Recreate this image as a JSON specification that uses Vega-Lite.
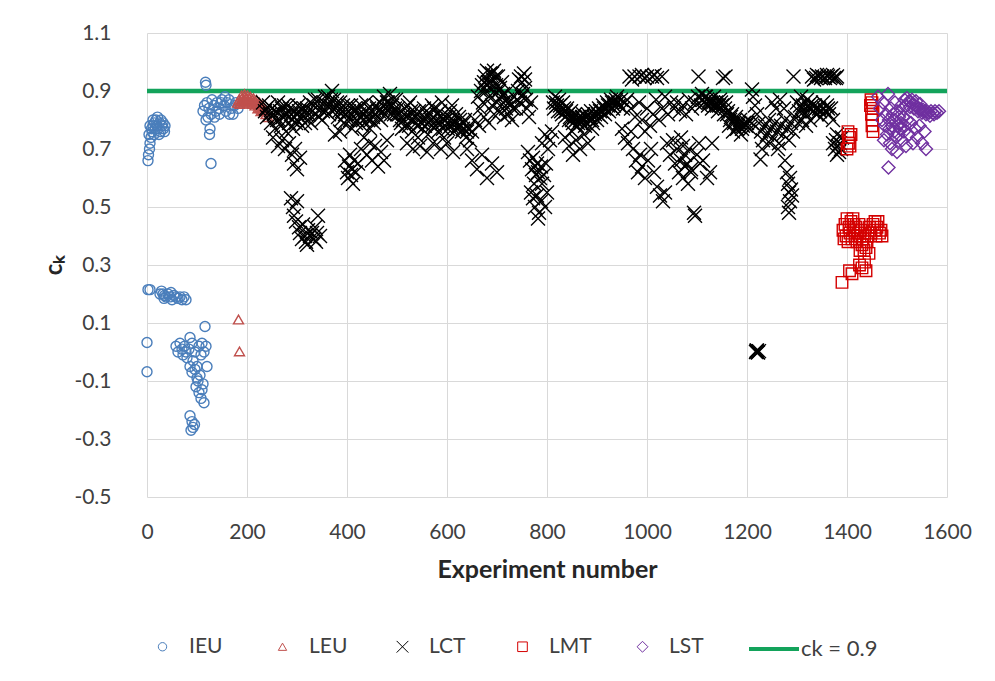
{
  "$schema": "https://vega.github.io/schema/vega-lite/v6.json",
  "width": 800,
  "height": 464,
  "autosize": {"type": "none"},
  "padding": {"left": 147, "top": 33, "right": 48, "bottom": 184},
  "background": "white",
  "config": {"view": {"stroke": null}, "font": "Lato"},
  "layer": [
    {
      "data": {"values": [{"ref": "ck = 0.9", "y": 0.9}]},
      "mark": {"type": "rule", "strokeWidth": 4.5},
      "encoding": {
        "y": {"field": "y", "type": "quantitative", "scale": {"domain": [-0.5, 1.1], "nice": false}},
        "stroke": {
          "field": "ref", "type": "nominal",
          "scale": {"range": ["#13A35B"]},
          "legend": {
            "orient": "none", "legendX": 600, "legendY": 589, "title": null,
            "symbolType": "stroke", "symbolSize": 2500, "symbolStrokeWidth": 4,
            "labelFont": "Lato", "labelFontSize": 22, "labelColor": "#404040", "labelOffset": 0
          }
        }
      }
    },
    {
      "data": {"values": [
        {"g":"IEU","x":2,"y":0.66},{"g":"IEU","x":3,"y":0.68},{"g":"IEU","x":5,"y":0.70},{"g":"IEU","x":6,"y":0.72},{"g":"IEU","x":8,"y":0.74},{"g":"IEU","x":4,"y":0.75},{"g":"IEU","x":10,"y":0.76},{"g":"IEU","x":12,"y":0.78},{"g":"IEU","x":15,"y":0.79},{"g":"IEU","x":18,"y":0.80},{"g":"IEU","x":20,"y":0.78},{"g":"IEU","x":22,"y":0.77},{"g":"IEU","x":25,"y":0.79},{"g":"IEU","x":28,"y":0.80},{"g":"IEU","x":30,"y":0.78},{"g":"IEU","x":33,"y":0.77},{"g":"IEU","x":35,"y":0.76},{"g":"IEU","x":14,"y":0.75},{"g":"IEU","x":24,"y":0.75},{"g":"IEU","x":17,"y":0.77},{"g":"IEU","x":27,"y":0.76},{"g":"IEU","x":32,"y":0.79},{"g":"IEU","x":12,"y":0.80},{"g":"IEU","x":21,"y":0.81},{"g":"IEU","x":9,"y":0.77},{"g":"IEU","x":36,"y":0.78},{"g":"IEU","x":6,"y":0.78},
        {"g":"IEU","x":117,"y":0.93},{"g":"IEU","x":118,"y":0.92},{"g":"IEU","x":112,"y":0.83},{"g":"IEU","x":115,"y":0.85},{"g":"IEU","x":120,"y":0.86},{"g":"IEU","x":124,"y":0.84},{"g":"IEU","x":128,"y":0.82},{"g":"IEU","x":130,"y":0.87},{"g":"IEU","x":134,"y":0.85},{"g":"IEU","x":138,"y":0.83},{"g":"IEU","x":140,"y":0.86},{"g":"IEU","x":144,"y":0.84},{"g":"IEU","x":148,"y":0.86},{"g":"IEU","x":150,"y":0.87},{"g":"IEU","x":154,"y":0.85},{"g":"IEU","x":158,"y":0.83},{"g":"IEU","x":160,"y":0.86},{"g":"IEU","x":164,"y":0.87},{"g":"IEU","x":168,"y":0.84},{"g":"IEU","x":172,"y":0.82},{"g":"IEU","x":175,"y":0.85},{"g":"IEU","x":178,"y":0.86},{"g":"IEU","x":122,"y":0.81},{"g":"IEU","x":135,"y":0.81},{"g":"IEU","x":145,"y":0.82},{"g":"IEU","x":165,"y":0.82},{"g":"IEU","x":182,"y":0.84},{"g":"IEU","x":126,"y":0.77},{"g":"IEU","x":125,"y":0.75},{"g":"IEU","x":128,"y":0.65},{"g":"IEU","x":118,"y":0.80},{"g":"IEU","x":156,"y":0.88},
        {"g":"IEU","x":2,"y":0.215},{"g":"IEU","x":6,"y":0.215},{"g":"IEU","x":26,"y":0.20},{"g":"IEU","x":29,"y":0.21},{"g":"IEU","x":32,"y":0.20},{"g":"IEU","x":35,"y":0.195},{"g":"IEU","x":38,"y":0.19},{"g":"IEU","x":42,"y":0.20},{"g":"IEU","x":46,"y":0.19},{"g":"IEU","x":50,"y":0.18},{"g":"IEU","x":54,"y":0.195},{"g":"IEU","x":58,"y":0.19},{"g":"IEU","x":62,"y":0.185},{"g":"IEU","x":66,"y":0.19},{"g":"IEU","x":70,"y":0.18},{"g":"IEU","x":74,"y":0.19},{"g":"IEU","x":78,"y":0.18},{"g":"IEU","x":34,"y":0.185},{"g":"IEU","x":48,"y":0.205},
        {"g":"IEU","x":0,"y":0.033},{"g":"IEU","x":0,"y":-0.068},{"g":"IEU","x":116,"y":0.088},
        {"g":"IEU","x":58,"y":0.02},{"g":"IEU","x":62,"y":0.0},{"g":"IEU","x":66,"y":0.03},{"g":"IEU","x":70,"y":0.01},{"g":"IEU","x":72,"y":-0.01},{"g":"IEU","x":75,"y":0.02},{"g":"IEU","x":78,"y":0.0},{"g":"IEU","x":80,"y":-0.02},{"g":"IEU","x":84,"y":0.01},{"g":"IEU","x":86,"y":0.05},{"g":"IEU","x":90,"y":0.03},{"g":"IEU","x":92,"y":-0.03},{"g":"IEU","x":96,"y":0.0},{"g":"IEU","x":100,"y":-0.05},{"g":"IEU","x":104,"y":0.02},{"g":"IEU","x":108,"y":-0.01},{"g":"IEU","x":110,"y":0.03},{"g":"IEU","x":114,"y":0.0},{"g":"IEU","x":118,"y":0.02},{"g":"IEU","x":120,"y":-0.05},{"g":"IEU","x":86,"y":-0.05},{"g":"IEU","x":90,"y":-0.07},{"g":"IEU","x":96,"y":-0.06},{"g":"IEU","x":102,"y":-0.10},{"g":"IEU","x":106,"y":-0.08},{"g":"IEU","x":112,"y":-0.11},{"g":"IEU","x":98,"y":-0.12},{"g":"IEU","x":104,"y":-0.14},{"g":"IEU","x":108,"y":-0.16},{"g":"IEU","x":110,"y":-0.13},{"g":"IEU","x":100,"y":-0.09},{"g":"IEU","x":114,"y":-0.175},{"g":"IEU","x":86,"y":-0.22},{"g":"IEU","x":90,"y":-0.24},{"g":"IEU","x":92,"y":-0.26},{"g":"IEU","x":95,"y":-0.25},{"g":"IEU","x":88,"y":-0.27},
        {"g":"LEU","x":181,"y":0.86},{"g":"LEU","x":184,"y":0.87},{"g":"LEU","x":187,"y":0.865},{"g":"LEU","x":190,"y":0.875},{"g":"LEU","x":193,"y":0.87},{"g":"LEU","x":196,"y":0.88},{"g":"LEU","x":199,"y":0.875},{"g":"LEU","x":202,"y":0.87},{"g":"LEU","x":205,"y":0.875},{"g":"LEU","x":208,"y":0.865},{"g":"LEU","x":211,"y":0.87},{"g":"LEU","x":214,"y":0.86},{"g":"LEU","x":217,"y":0.865},{"g":"LEU","x":220,"y":0.855},{"g":"LEU","x":223,"y":0.85},{"g":"LEU","x":226,"y":0.845},{"g":"LEU","x":229,"y":0.84},{"g":"LEU","x":232,"y":0.835},{"g":"LEU","x":235,"y":0.83},{"g":"LEU","x":186,"y":0.855},{"g":"LEU","x":192,"y":0.86},{"g":"LEU","x":198,"y":0.865},{"g":"LEU","x":204,"y":0.86},{"g":"LEU","x":210,"y":0.855},{"g":"LEU","x":216,"y":0.85},{"g":"LEU","x":222,"y":0.84},{"g":"LEU","x":228,"y":0.83},{"g":"LEU","x":189,"y":0.885},{"g":"LEU","x":195,"y":0.89},{"g":"LEU","x":201,"y":0.885},{"g":"LEU","x":207,"y":0.88},{"g":"LEU","x":213,"y":0.875},{"g":"LEU","x":219,"y":0.87},{"g":"LEU","x":225,"y":0.86},{"g":"LEU","x":231,"y":0.85},{"g":"LEU","x":238,"y":0.82},{"g":"LEU","x":242,"y":0.81},{"g":"LEU","x":183,"y":0.112},{"g":"LEU","x":185,"y":0.002},
        {"g":"LCT","x":232,"y":0.86},{"g":"LCT","x":236,"y":0.83},{"g":"LCT","x":240,"y":0.81},{"g":"LCT","x":244,"y":0.85},{"g":"LCT","x":248,"y":0.79},{"g":"LCT","x":250,"y":0.84},{"g":"LCT","x":254,"y":0.82},{"g":"LCT","x":256,"y":0.77},{"g":"LCT","x":260,"y":0.80},{"g":"LCT","x":262,"y":0.86},{"g":"LCT","x":266,"y":0.83},{"g":"LCT","x":268,"y":0.78},{"g":"LCT","x":272,"y":0.81},{"g":"LCT","x":274,"y":0.85},{"g":"LCT","x":278,"y":0.76},{"g":"LCT","x":280,"y":0.82},{"g":"LCT","x":284,"y":0.79},{"g":"LCT","x":286,"y":0.84},{"g":"LCT","x":290,"y":0.80},{"g":"LCT","x":292,"y":0.77},{"g":"LCT","x":296,"y":0.83},{"g":"LCT","x":298,"y":0.79},{"g":"LCT","x":302,"y":0.85},{"g":"LCT","x":306,"y":0.81},{"g":"LCT","x":310,"y":0.78},{"g":"LCT","x":314,"y":0.84},{"g":"LCT","x":318,"y":0.82},{"g":"LCT","x":322,"y":0.80},{"g":"LCT","x":326,"y":0.86},{"g":"LCT","x":330,"y":0.83},
        {"g":"LCT","x":238,"y":0.84},{"g":"LCT","x":246,"y":0.82},{"g":"LCT","x":258,"y":0.83},{"g":"LCT","x":264,"y":0.80},{"g":"LCT","x":270,"y":0.84},{"g":"LCT","x":276,"y":0.82},{"g":"LCT","x":282,"y":0.85},{"g":"LCT","x":288,"y":0.82},{"g":"LCT","x":294,"y":0.81},{"g":"LCT","x":300,"y":0.80},{"g":"LCT","x":304,"y":0.83},{"g":"LCT","x":308,"y":0.84},{"g":"LCT","x":312,"y":0.81},{"g":"LCT","x":316,"y":0.79},{"g":"LCT","x":320,"y":0.84},{"g":"LCT","x":324,"y":0.82},{"g":"LCT","x":328,"y":0.79},
        {"g":"LCT","x":252,"y":0.74},{"g":"LCT","x":262,"y":0.71},{"g":"LCT","x":270,"y":0.73},{"g":"LCT","x":276,"y":0.70},{"g":"LCT","x":284,"y":0.72},{"g":"LCT","x":290,"y":0.68},{"g":"LCT","x":294,"y":0.65},{"g":"LCT","x":300,"y":0.63},{"g":"LCT","x":306,"y":0.67},{"g":"LCT","x":296,"y":0.70},
        {"g":"LCT","x":288,"y":0.53},{"g":"LCT","x":292,"y":0.50},{"g":"LCT","x":294,"y":0.47},{"g":"LCT","x":298,"y":0.45},{"g":"LCT","x":300,"y":0.52},{"g":"LCT","x":304,"y":0.43},{"g":"LCT","x":306,"y":0.41},{"g":"LCT","x":310,"y":0.39},{"g":"LCT","x":312,"y":0.44},{"g":"LCT","x":316,"y":0.40},{"g":"LCT","x":318,"y":0.38},{"g":"LCT","x":322,"y":0.42},{"g":"LCT","x":326,"y":0.40},{"g":"LCT","x":330,"y":0.41},{"g":"LCT","x":334,"y":0.39},{"g":"LCT","x":336,"y":0.43},{"g":"LCT","x":340,"y":0.41},{"g":"LCT","x":342,"y":0.47},{"g":"LCT","x":346,"y":0.40},{"g":"LCT","x":338,"y":0.38},{"g":"LCT","x":320,"y":0.37},
        {"g":"LCT","x":334,"y":0.85},{"g":"LCT","x":338,"y":0.82},{"g":"LCT","x":342,"y":0.87},{"g":"LCT","x":346,"y":0.84},{"g":"LCT","x":350,"y":0.80},{"g":"LCT","x":354,"y":0.86},{"g":"LCT","x":358,"y":0.83},{"g":"LCT","x":362,"y":0.88},{"g":"LCT","x":366,"y":0.85},{"g":"LCT","x":370,"y":0.90},{"g":"LCT","x":374,"y":0.87},{"g":"LCT","x":378,"y":0.84},{"g":"LCT","x":382,"y":0.81},{"g":"LCT","x":386,"y":0.86},{"g":"LCT","x":390,"y":0.83},{"g":"LCT","x":394,"y":0.79},{"g":"LCT","x":398,"y":0.82},{"g":"LCT","x":402,"y":0.85},{"g":"LCT","x":406,"y":0.80},{"g":"LCT","x":410,"y":0.77},{"g":"LCT","x":414,"y":0.83},{"g":"LCT","x":418,"y":0.79},{"g":"LCT","x":422,"y":0.84},{"g":"LCT","x":426,"y":0.81},{"g":"LCT","x":430,"y":0.78},{"g":"LCT","x":434,"y":0.82},{"g":"LCT","x":438,"y":0.86},{"g":"LCT","x":442,"y":0.80},{"g":"LCT","x":446,"y":0.77},{"g":"LCT","x":450,"y":0.83},{"g":"LCT","x":454,"y":0.79},{"g":"LCT","x":458,"y":0.85},{"g":"LCT","x":462,"y":0.81},{"g":"LCT","x":466,"y":0.86},{"g":"LCT","x":470,"y":0.83},{"g":"LCT","x":474,"y":0.88},{"g":"LCT","x":478,"y":0.84},{"g":"LCT","x":482,"y":0.86},{"g":"LCT","x":486,"y":0.89},{"g":"LCT","x":490,"y":0.85},{"g":"LCT","x":494,"y":0.82},{"g":"LCT","x":498,"y":0.87},
        {"g":"LCT","x":336,"y":0.87},{"g":"LCT","x":344,"y":0.81},{"g":"LCT","x":352,"y":0.83},{"g":"LCT","x":356,"y":0.88},{"g":"LCT","x":360,"y":0.85},{"g":"LCT","x":364,"y":0.82},{"g":"LCT","x":368,"y":0.87},{"g":"LCT","x":372,"y":0.84},{"g":"LCT","x":380,"y":0.86},{"g":"LCT","x":384,"y":0.83},{"g":"LCT","x":388,"y":0.80},{"g":"LCT","x":392,"y":0.85},{"g":"LCT","x":396,"y":0.82},{"g":"LCT","x":400,"y":0.80},{"g":"LCT","x":404,"y":0.83},{"g":"LCT","x":408,"y":0.85},{"g":"LCT","x":412,"y":0.81},{"g":"LCT","x":416,"y":0.84},{"g":"LCT","x":420,"y":0.80},{"g":"LCT","x":424,"y":0.82},{"g":"LCT","x":428,"y":0.85},{"g":"LCT","x":432,"y":0.80},{"g":"LCT","x":436,"y":0.83},{"g":"LCT","x":440,"y":0.81},{"g":"LCT","x":444,"y":0.84},{"g":"LCT","x":448,"y":0.80},{"g":"LCT","x":452,"y":0.81},{"g":"LCT","x":456,"y":0.82},{"g":"LCT","x":460,"y":0.84},{"g":"LCT","x":464,"y":0.83},{"g":"LCT","x":468,"y":0.80},{"g":"LCT","x":472,"y":0.85},{"g":"LCT","x":476,"y":0.82},{"g":"LCT","x":480,"y":0.86},{"g":"LCT","x":484,"y":0.84},{"g":"LCT","x":488,"y":0.82},{"g":"LCT","x":492,"y":0.87},{"g":"LCT","x":496,"y":0.84},{"g":"LCT","x":500,"y":0.82},
        {"g":"LCT","x":396,"y":0.66},{"g":"LCT","x":400,"y":0.62},{"g":"LCT","x":402,"y":0.60},{"g":"LCT","x":404,"y":0.64},{"g":"LCT","x":408,"y":0.61},{"g":"LCT","x":410,"y":0.63},{"g":"LCT","x":414,"y":0.66},{"g":"LCT","x":418,"y":0.62},{"g":"LCT","x":406,"y":0.68},{"g":"LCT","x":412,"y":0.58},{"g":"LCT","x":422,"y":0.65},{"g":"LCT","x":428,"y":0.70},{"g":"LCT","x":434,"y":0.74},{"g":"LCT","x":440,"y":0.68},{"g":"LCT","x":446,"y":0.72},{"g":"LCT","x":450,"y":0.66},{"g":"LCT","x":456,"y":0.71},{"g":"LCT","x":462,"y":0.64},{"g":"LCT","x":468,"y":0.69},{"g":"LCT","x":474,"y":0.66},{"g":"LCT","x":480,"y":0.73},{"g":"LCT","x":386,"y":0.76},{"g":"LCT","x":376,"y":0.75},
        {"g":"LCT","x":502,"y":0.84},{"g":"LCT","x":506,"y":0.80},{"g":"LCT","x":510,"y":0.77},{"g":"LCT","x":514,"y":0.82},{"g":"LCT","x":518,"y":0.78},{"g":"LCT","x":522,"y":0.85},{"g":"LCT","x":526,"y":0.81},{"g":"LCT","x":530,"y":0.76},{"g":"LCT","x":534,"y":0.83},{"g":"LCT","x":538,"y":0.79},{"g":"LCT","x":542,"y":0.74},{"g":"LCT","x":546,"y":0.81},{"g":"LCT","x":550,"y":0.77},{"g":"LCT","x":554,"y":0.84},{"g":"LCT","x":558,"y":0.80},{"g":"LCT","x":562,"y":0.75},{"g":"LCT","x":566,"y":0.82},{"g":"LCT","x":570,"y":0.78},{"g":"LCT","x":574,"y":0.84},{"g":"LCT","x":578,"y":0.80},{"g":"LCT","x":582,"y":0.76},{"g":"LCT","x":586,"y":0.83},{"g":"LCT","x":590,"y":0.79},{"g":"LCT","x":594,"y":0.74},{"g":"LCT","x":598,"y":0.81},{"g":"LCT","x":602,"y":0.77},{"g":"LCT","x":606,"y":0.83},{"g":"LCT","x":610,"y":0.79},{"g":"LCT","x":614,"y":0.76},{"g":"LCT","x":618,"y":0.82},{"g":"LCT","x":622,"y":0.78},{"g":"LCT","x":626,"y":0.80},{"g":"LCT","x":630,"y":0.76},{"g":"LCT","x":634,"y":0.79},{"g":"LCT","x":638,"y":0.74},{"g":"LCT","x":642,"y":0.77},{"g":"LCT","x":646,"y":0.73},{"g":"LCT","x":650,"y":0.76},{"g":"LCT","x":520,"y":0.72},{"g":"LCT","x":532,"y":0.70},{"g":"LCT","x":546,"y":0.71},{"g":"LCT","x":560,"y":0.69},{"g":"LCT","x":572,"y":0.72},{"g":"LCT","x":588,"y":0.70},{"g":"LCT","x":600,"y":0.72},{"g":"LCT","x":612,"y":0.69},{"g":"LCT","x":526,"y":0.86},{"g":"LCT","x":570,"y":0.85},{"g":"LCT","x":590,"y":0.86},{"g":"LCT","x":610,"y":0.85},
        {"g":"LCT","x":504,"y":0.82},{"g":"LCT","x":508,"y":0.79},{"g":"LCT","x":512,"y":0.80},{"g":"LCT","x":516,"y":0.84},{"g":"LCT","x":520,"y":0.81},{"g":"LCT","x":524,"y":0.78},{"g":"LCT","x":528,"y":0.83},{"g":"LCT","x":532,"y":0.80},{"g":"LCT","x":536,"y":0.81},{"g":"LCT","x":540,"y":0.78},{"g":"LCT","x":544,"y":0.83},{"g":"LCT","x":548,"y":0.79},{"g":"LCT","x":552,"y":0.80},{"g":"LCT","x":556,"y":0.78},{"g":"LCT","x":560,"y":0.82},{"g":"LCT","x":564,"y":0.79},{"g":"LCT","x":568,"y":0.80},{"g":"LCT","x":572,"y":0.81},{"g":"LCT","x":576,"y":0.78},{"g":"LCT","x":580,"y":0.82},{"g":"LCT","x":584,"y":0.79},{"g":"LCT","x":588,"y":0.81},{"g":"LCT","x":592,"y":0.77},{"g":"LCT","x":596,"y":0.80},{"g":"LCT","x":600,"y":0.79},{"g":"LCT","x":604,"y":0.81},{"g":"LCT","x":608,"y":0.78},{"g":"LCT","x":612,"y":0.80},{"g":"LCT","x":616,"y":0.79},{"g":"LCT","x":620,"y":0.77},{"g":"LCT","x":624,"y":0.81},{"g":"LCT","x":628,"y":0.78},{"g":"LCT","x":632,"y":0.77},{"g":"LCT","x":636,"y":0.80},{"g":"LCT","x":640,"y":0.76},
        {"g":"LCT","x":640,"y":0.70},{"g":"LCT","x":650,"y":0.66},{"g":"LCT","x":660,"y":0.63},{"g":"LCT","x":670,"y":0.68},{"g":"LCT","x":680,"y":0.60},{"g":"LCT","x":690,"y":0.65},{"g":"LCT","x":700,"y":0.62},
        {"g":"LCT","x":662,"y":0.88},{"g":"LCT","x":666,"y":0.84},{"g":"LCT","x":670,"y":0.92},{"g":"LCT","x":672,"y":0.86},{"g":"LCT","x":676,"y":0.95},{"g":"LCT","x":678,"y":0.90},{"g":"LCT","x":680,"y":0.97},{"g":"LCT","x":682,"y":0.93},{"g":"LCT","x":684,"y":0.88},{"g":"LCT","x":686,"y":0.96},{"g":"LCT","x":688,"y":0.91},{"g":"LCT","x":690,"y":0.85},{"g":"LCT","x":692,"y":0.94},{"g":"LCT","x":694,"y":0.97},{"g":"LCT","x":696,"y":0.89},{"g":"LCT","x":698,"y":0.92},{"g":"LCT","x":700,"y":0.86},{"g":"LCT","x":702,"y":0.95},{"g":"LCT","x":704,"y":0.90},{"g":"LCT","x":706,"y":0.83},{"g":"LCT","x":708,"y":0.88},{"g":"LCT","x":710,"y":0.93},{"g":"LCT","x":712,"y":0.86},{"g":"LCT","x":714,"y":0.81},{"g":"LCT","x":716,"y":0.89},{"g":"LCT","x":718,"y":0.84},{"g":"LCT","x":720,"y":0.87},{"g":"LCT","x":722,"y":0.82},{"g":"LCT","x":726,"y":0.85},{"g":"LCT","x":730,"y":0.80},{"g":"LCT","x":734,"y":0.88},{"g":"LCT","x":738,"y":0.84},{"g":"LCT","x":742,"y":0.90},{"g":"LCT","x":746,"y":0.86},{"g":"LCT","x":748,"y":0.95},{"g":"LCT","x":750,"y":0.93},{"g":"LCT","x":752,"y":0.89},{"g":"LCT","x":754,"y":0.96},{"g":"LCT","x":756,"y":0.91},{"g":"LCT","x":758,"y":0.87},{"g":"LCT","x":760,"y":0.84},{"g":"LCT","x":764,"y":0.81},{"g":"LCT","x":768,"y":0.86},{"g":"LCT","x":656,"y":0.80},{"g":"LCT","x":664,"y":0.78},{"g":"LCT","x":674,"y":0.81},{"g":"LCT","x":684,"y":0.79},{"g":"LCT","x":694,"y":0.82},{"g":"LCT","x":744,"y":0.94},
        {"g":"LCT","x":668,"y":0.90},{"g":"LCT","x":674,"y":0.93},{"g":"LCT","x":680,"y":0.92},{"g":"LCT","x":686,"y":0.93},{"g":"LCT","x":690,"y":0.96},{"g":"LCT","x":698,"y":0.95},{"g":"LCT","x":706,"y":0.91},{"g":"LCT","x":712,"y":0.89},{"g":"LCT","x":724,"y":0.86},{"g":"LCT","x":732,"y":0.84},{"g":"LCT","x":740,"y":0.87},{"g":"LCT","x":750,"y":0.88},{"g":"LCT","x":756,"y":0.94},
        {"g":"LCT","x":762,"y":0.69},{"g":"LCT","x":766,"y":0.66},{"g":"LCT","x":770,"y":0.63},{"g":"LCT","x":772,"y":0.67},{"g":"LCT","x":776,"y":0.64},{"g":"LCT","x":778,"y":0.61},{"g":"LCT","x":780,"y":0.65},{"g":"LCT","x":782,"y":0.62},{"g":"LCT","x":786,"y":0.60},{"g":"LCT","x":788,"y":0.64},{"g":"LCT","x":790,"y":0.58},{"g":"LCT","x":774,"y":0.58},{"g":"LCT","x":768,"y":0.55},{"g":"LCT","x":772,"y":0.53},{"g":"LCT","x":776,"y":0.50},{"g":"LCT","x":780,"y":0.54},{"g":"LCT","x":784,"y":0.48},{"g":"LCT","x":788,"y":0.52},{"g":"LCT","x":782,"y":0.46},{"g":"LCT","x":796,"y":0.50},{"g":"LCT","x":800,"y":0.55},{"g":"LCT","x":794,"y":0.61},{"g":"LCT","x":798,"y":0.65},{"g":"LCT","x":802,"y":0.70},{"g":"LCT","x":806,"y":0.73},{"g":"LCT","x":810,"y":0.76},{"g":"LCT","x":796,"y":0.75},{"g":"LCT","x":790,"y":0.72},
        {"g":"LCT","x":812,"y":0.86},{"g":"LCT","x":816,"y":0.88},{"g":"LCT","x":820,"y":0.85},{"g":"LCT","x":824,"y":0.87},{"g":"LCT","x":828,"y":0.83},{"g":"LCT","x":832,"y":0.86},{"g":"LCT","x":836,"y":0.81},{"g":"LCT","x":840,"y":0.84},{"g":"LCT","x":844,"y":0.80},{"g":"LCT","x":848,"y":0.83},{"g":"LCT","x":852,"y":0.79},{"g":"LCT","x":856,"y":0.82},{"g":"LCT","x":860,"y":0.78},{"g":"LCT","x":864,"y":0.81},{"g":"LCT","x":868,"y":0.79},{"g":"LCT","x":872,"y":0.82},{"g":"LCT","x":876,"y":0.78},{"g":"LCT","x":880,"y":0.81},{"g":"LCT","x":884,"y":0.80},{"g":"LCT","x":888,"y":0.83},{"g":"LCT","x":892,"y":0.79},{"g":"LCT","x":896,"y":0.82},{"g":"LCT","x":900,"y":0.80},{"g":"LCT","x":904,"y":0.84},{"g":"LCT","x":908,"y":0.81},{"g":"LCT","x":912,"y":0.85},{"g":"LCT","x":916,"y":0.82},{"g":"LCT","x":920,"y":0.86},{"g":"LCT","x":924,"y":0.83},{"g":"LCT","x":928,"y":0.87},{"g":"LCT","x":932,"y":0.84},{"g":"LCT","x":936,"y":0.86},{"g":"LCT","x":940,"y":0.88},{"g":"LCT","x":944,"y":0.85},{"g":"LCT","x":948,"y":0.87},{"g":"LCT","x":952,"y":0.84},{"g":"LCT","x":956,"y":0.86},
        {"g":"LCT","x":814,"y":0.84},{"g":"LCT","x":818,"y":0.86},{"g":"LCT","x":822,"y":0.83},{"g":"LCT","x":826,"y":0.85},{"g":"LCT","x":830,"y":0.82},{"g":"LCT","x":834,"y":0.84},{"g":"LCT","x":838,"y":0.83},{"g":"LCT","x":842,"y":0.82},{"g":"LCT","x":846,"y":0.81},{"g":"LCT","x":850,"y":0.80},{"g":"LCT","x":854,"y":0.81},{"g":"LCT","x":858,"y":0.80},{"g":"LCT","x":862,"y":0.79},{"g":"LCT","x":866,"y":0.80},{"g":"LCT","x":870,"y":0.81},{"g":"LCT","x":874,"y":0.80},{"g":"LCT","x":878,"y":0.79},{"g":"LCT","x":882,"y":0.82},{"g":"LCT","x":886,"y":0.81},{"g":"LCT","x":890,"y":0.80},{"g":"LCT","x":894,"y":0.81},{"g":"LCT","x":898,"y":0.83},{"g":"LCT","x":902,"y":0.82},{"g":"LCT","x":906,"y":0.83},{"g":"LCT","x":910,"y":0.83},{"g":"LCT","x":914,"y":0.84},{"g":"LCT","x":918,"y":0.84},{"g":"LCT","x":922,"y":0.85},{"g":"LCT","x":926,"y":0.85},{"g":"LCT","x":930,"y":0.86},{"g":"LCT","x":934,"y":0.85},{"g":"LCT","x":938,"y":0.87},{"g":"LCT","x":942,"y":0.86},
        {"g":"LCT","x":836,"y":0.74},{"g":"LCT","x":844,"y":0.71},{"g":"LCT","x":852,"y":0.68},{"g":"LCT","x":858,"y":0.73},{"g":"LCT","x":866,"y":0.70},{"g":"LCT","x":874,"y":0.75},{"g":"LCT","x":882,"y":0.72},{"g":"LCT","x":850,"y":0.76},{"g":"LCT","x":890,"y":0.77},
        {"g":"LCT","x":965,"y":0.95},{"g":"LCT","x":975,"y":0.95},{"g":"LCT","x":985,"y":0.95},{"g":"LCT","x":995,"y":0.945},{"g":"LCT","x":1000,"y":0.95},{"g":"LCT","x":1010,"y":0.95},{"g":"LCT","x":1020,"y":0.945},{"g":"LCT","x":1030,"y":0.95},{"g":"LCT","x":970,"y":0.94},{"g":"LCT","x":990,"y":0.955},{"g":"LCT","x":1015,"y":0.955},
        {"g":"LCT","x":960,"y":0.87},{"g":"LCT","x":968,"y":0.84},{"g":"LCT","x":976,"y":0.81},{"g":"LCT","x":984,"y":0.86},{"g":"LCT","x":990,"y":0.80},{"g":"LCT","x":996,"y":0.76},{"g":"LCT","x":1000,"y":0.84},{"g":"LCT","x":1006,"y":0.78},{"g":"LCT","x":1012,"y":0.82},{"g":"LCT","x":1018,"y":0.87},{"g":"LCT","x":1024,"y":0.80},{"g":"LCT","x":1030,"y":0.84},{"g":"LCT","x":1036,"y":0.88},{"g":"LCT","x":1042,"y":0.82},{"g":"LCT","x":1048,"y":0.86},{"g":"LCT","x":1054,"y":0.84},{"g":"LCT","x":1060,"y":0.86},{"g":"LCT","x":1066,"y":0.83},{"g":"LCT","x":1072,"y":0.85},{"g":"LCT","x":1078,"y":0.82},{"g":"LCT","x":1084,"y":0.87},{"g":"LCT","x":1090,"y":0.84},{"g":"LCT","x":1096,"y":0.86},{"g":"LCT","x":1102,"y":0.88},{"g":"LCT","x":1108,"y":0.85},
        {"g":"LCT","x":950,"y":0.77},{"g":"LCT","x":956,"y":0.74},{"g":"LCT","x":962,"y":0.72},{"g":"LCT","x":968,"y":0.76},{"g":"LCT","x":972,"y":0.70},{"g":"LCT","x":978,"y":0.66},{"g":"LCT","x":982,"y":0.62},{"g":"LCT","x":986,"y":0.68},{"g":"LCT","x":990,"y":0.64},{"g":"LCT","x":996,"y":0.60},{"g":"LCT","x":1002,"y":0.66},{"g":"LCT","x":1008,"y":0.70},{"g":"LCT","x":1014,"y":0.62},{"g":"LCT","x":1020,"y":0.57},{"g":"LCT","x":1026,"y":0.54},{"g":"LCT","x":1032,"y":0.52},{"g":"LCT","x":1036,"y":0.55},{"g":"LCT","x":1040,"y":0.72},{"g":"LCT","x":1046,"y":0.68},{"g":"LCT","x":1052,"y":0.73},{"g":"LCT","x":1056,"y":0.65},{"g":"LCT","x":1060,"y":0.70},{"g":"LCT","x":1064,"y":0.62},{"g":"LCT","x":1068,"y":0.66},{"g":"LCT","x":1072,"y":0.60},{"g":"LCT","x":1076,"y":0.64},{"g":"LCT","x":1082,"y":0.58},{"g":"LCT","x":1088,"y":0.62},{"g":"LCT","x":1094,"y":0.48},{"g":"LCT","x":1096,"y":0.47},{"g":"LCT","x":1100,"y":0.68},{"g":"LCT","x":1104,"y":0.72},{"g":"LCT","x":1106,"y":0.65},
        {"g":"LCT","x":1103,"y":0.95},{"g":"LCT","x":1157,"y":0.95},{"g":"LCT","x":1152,"y":0.945},
        {"g":"LCT","x":1110,"y":0.89},{"g":"LCT","x":1114,"y":0.86},{"g":"LCT","x":1118,"y":0.88},{"g":"LCT","x":1122,"y":0.85},{"g":"LCT","x":1126,"y":0.87},{"g":"LCT","x":1130,"y":0.84},{"g":"LCT","x":1134,"y":0.88},{"g":"LCT","x":1138,"y":0.86},{"g":"LCT","x":1142,"y":0.83},{"g":"LCT","x":1146,"y":0.87},{"g":"LCT","x":1150,"y":0.85},{"g":"LCT","x":1154,"y":0.82},{"g":"LCT","x":1158,"y":0.86},{"g":"LCT","x":1162,"y":0.83},{"g":"LCT","x":1166,"y":0.80},{"g":"LCT","x":1170,"y":0.82},{"g":"LCT","x":1174,"y":0.79},{"g":"LCT","x":1178,"y":0.81},{"g":"LCT","x":1182,"y":0.78},{"g":"LCT","x":1186,"y":0.80},{"g":"LCT","x":1190,"y":0.77},{"g":"LCT","x":1194,"y":0.79},{"g":"LCT","x":1198,"y":0.78},{"g":"LCT","x":1202,"y":0.80},{"g":"LCT","x":1206,"y":0.77},{"g":"LCT","x":1210,"y":0.79},{"g":"LCT","x":1164,"y":0.78},{"g":"LCT","x":1172,"y":0.76},{"g":"LCT","x":1180,"y":0.77},{"g":"LCT","x":1188,"y":0.75},
        {"g":"LCT","x":1112,"y":0.87},{"g":"LCT","x":1116,"y":0.88},{"g":"LCT","x":1120,"y":0.87},{"g":"LCT","x":1124,"y":0.86},{"g":"LCT","x":1128,"y":0.86},{"g":"LCT","x":1132,"y":0.86},{"g":"LCT","x":1136,"y":0.85},{"g":"LCT","x":1140,"y":0.85},{"g":"LCT","x":1144,"y":0.85},{"g":"LCT","x":1148,"y":0.86},{"g":"LCT","x":1156,"y":0.84},{"g":"LCT","x":1160,"y":0.82},{"g":"LCT","x":1168,"y":0.81},{"g":"LCT","x":1176,"y":0.80},{"g":"LCT","x":1184,"y":0.79},{"g":"LCT","x":1192,"y":0.78},{"g":"LCT","x":1200,"y":0.79},
        {"g":"LCT","x":1068,"y":0.74},{"g":"LCT","x":1072,"y":0.71},{"g":"LCT","x":1076,"y":0.68},{"g":"LCT","x":1080,"y":0.65},{"g":"LCT","x":1084,"y":0.70},{"g":"LCT","x":1088,"y":0.63},{"g":"LCT","x":1120,"y":0.60},{"g":"LCT","x":1126,"y":0.62},{"g":"LCT","x":1112,"y":0.66},{"g":"LCT","x":1130,"y":0.72},
        {"g":"LCT","x":1218,"y":0.0},{"g":"LCT","x":1220,"y":0.005},{"g":"LCT","x":1222,"y":-0.002},{"g":"LCT","x":1224,"y":0.003},{"g":"LCT","x":1221,"y":0.0},{"g":"LCT","x":1219,"y":0.004},
        {"g":"LCT","x":1210,"y":0.905},{"g":"LCT","x":1212,"y":0.88},{"g":"LCT","x":1216,"y":0.85},{"g":"LCT","x":1220,"y":0.82},{"g":"LCT","x":1224,"y":0.79},{"g":"LCT","x":1228,"y":0.76},{"g":"LCT","x":1232,"y":0.73},{"g":"LCT","x":1236,"y":0.78},{"g":"LCT","x":1240,"y":0.75},{"g":"LCT","x":1244,"y":0.80},{"g":"LCT","x":1248,"y":0.77},{"g":"LCT","x":1252,"y":0.74},{"g":"LCT","x":1256,"y":0.79},{"g":"LCT","x":1260,"y":0.76},{"g":"LCT","x":1264,"y":0.72},{"g":"LCT","x":1268,"y":0.78},{"g":"LCT","x":1272,"y":0.75},{"g":"LCT","x":1276,"y":0.80},{"g":"LCT","x":1280,"y":0.77},{"g":"LCT","x":1284,"y":0.73},{"g":"LCT","x":1288,"y":0.79},{"g":"LCT","x":1292,"y":0.76},{"g":"LCT","x":1296,"y":0.81},{"g":"LCT","x":1227,"y":0.664},{"g":"LCT","x":1230,"y":0.70},{"g":"LCT","x":1246,"y":0.72},{"g":"LCT","x":1262,"y":0.70},{"g":"LCT","x":1250,"y":0.86},{"g":"LCT","x":1258,"y":0.84},{"g":"LCT","x":1266,"y":0.87},{"g":"LCT","x":1274,"y":0.84},
        {"g":"LCT","x":1276,"y":0.66},{"g":"LCT","x":1280,"y":0.62},{"g":"LCT","x":1282,"y":0.58},{"g":"LCT","x":1284,"y":0.55},{"g":"LCT","x":1286,"y":0.52},{"g":"LCT","x":1282,"y":0.50},{"g":"LCT","x":1284,"y":0.48},{"g":"LCT","x":1288,"y":0.56},{"g":"LCT","x":1286,"y":0.60},{"g":"LCT","x":1290,"y":0.54},
        {"g":"LCT","x":1293,"y":0.95},{"g":"LCT","x":1330,"y":0.95},{"g":"LCT","x":1338,"y":0.945},{"g":"LCT","x":1344,"y":0.95},{"g":"LCT","x":1350,"y":0.95},{"g":"LCT","x":1356,"y":0.945},{"g":"LCT","x":1362,"y":0.95},{"g":"LCT","x":1368,"y":0.95},{"g":"LCT","x":1374,"y":0.945},{"g":"LCT","x":1380,"y":0.95},{"g":"LCT","x":1340,"y":0.955},{"g":"LCT","x":1360,"y":0.955},{"g":"LCT","x":1372,"y":0.955},{"g":"LCT","x":1334,"y":0.94},{"g":"LCT","x":1348,"y":0.945},{"g":"LCT","x":1366,"y":0.945},{"g":"LCT","x":1378,"y":0.945},
        {"g":"LCT","x":1300,"y":0.86},{"g":"LCT","x":1304,"y":0.83},{"g":"LCT","x":1308,"y":0.88},{"g":"LCT","x":1312,"y":0.85},{"g":"LCT","x":1316,"y":0.82},{"g":"LCT","x":1320,"y":0.87},{"g":"LCT","x":1324,"y":0.84},{"g":"LCT","x":1328,"y":0.86},{"g":"LCT","x":1332,"y":0.83},{"g":"LCT","x":1336,"y":0.85},{"g":"LCT","x":1340,"y":0.82},{"g":"LCT","x":1344,"y":0.84},{"g":"LCT","x":1348,"y":0.81},{"g":"LCT","x":1352,"y":0.86},{"g":"LCT","x":1356,"y":0.83},{"g":"LCT","x":1360,"y":0.85},{"g":"LCT","x":1364,"y":0.82},{"g":"LCT","x":1368,"y":0.84},{"g":"LCT","x":1372,"y":0.80},{"g":"LCT","x":1310,"y":0.80},{"g":"LCT","x":1318,"y":0.78},{"g":"LCT","x":1302,"y":0.79},{"g":"LCT","x":1326,"y":0.80},
        {"g":"LCT","x":1306,"y":0.85},{"g":"LCT","x":1314,"y":0.83},{"g":"LCT","x":1322,"y":0.85},{"g":"LCT","x":1330,"y":0.85},{"g":"LCT","x":1338,"y":0.84},{"g":"LCT","x":1346,"y":0.83},{"g":"LCT","x":1354,"y":0.84},{"g":"LCT","x":1362,"y":0.84},
        {"g":"LCT","x":1372,"y":0.72},{"g":"LCT","x":1376,"y":0.70},{"g":"LCT","x":1378,"y":0.73},{"g":"LCT","x":1380,"y":0.68},{"g":"LCT","x":1382,"y":0.71},{"g":"LCT","x":1384,"y":0.69},{"g":"LCT","x":1386,"y":0.72},{"g":"LCT","x":1388,"y":0.70},{"g":"LCT","x":1390,"y":0.74},{"g":"LCT","x":1380,"y":0.75},
        {"g":"LMT","x":1448,"y":0.87},{"g":"LMT","x":1450,"y":0.86},{"g":"LMT","x":1452,"y":0.84},{"g":"LMT","x":1449,"y":0.82},{"g":"LMT","x":1451,"y":0.80},{"g":"LMT","x":1450,"y":0.78},{"g":"LMT","x":1452,"y":0.76},{"g":"LMT","x":1447,"y":0.85},
        {"g":"LMT","x":1402,"y":0.76},{"g":"LMT","x":1405,"y":0.74},{"g":"LMT","x":1403,"y":0.72},{"g":"LMT","x":1408,"y":0.75},{"g":"LMT","x":1400,"y":0.70},{"g":"LMT","x":1406,"y":0.71},
        {"g":"LMT","x":1392,"y":0.42},{"g":"LMT","x":1396,"y":0.44},{"g":"LMT","x":1398,"y":0.40},{"g":"LMT","x":1400,"y":0.46},{"g":"LMT","x":1404,"y":0.43},{"g":"LMT","x":1406,"y":0.41},{"g":"LMT","x":1408,"y":0.45},{"g":"LMT","x":1410,"y":0.39},{"g":"LMT","x":1412,"y":0.42},{"g":"LMT","x":1414,"y":0.44},{"g":"LMT","x":1416,"y":0.40},{"g":"LMT","x":1418,"y":0.43},{"g":"LMT","x":1420,"y":0.38},{"g":"LMT","x":1422,"y":0.41},{"g":"LMT","x":1424,"y":0.44},{"g":"LMT","x":1426,"y":0.40},{"g":"LMT","x":1428,"y":0.42},{"g":"LMT","x":1430,"y":0.37},{"g":"LMT","x":1432,"y":0.39},{"g":"LMT","x":1434,"y":0.35},{"g":"LMT","x":1436,"y":0.41},{"g":"LMT","x":1438,"y":0.36},{"g":"LMT","x":1440,"y":0.38},{"g":"LMT","x":1442,"y":0.40},{"g":"LMT","x":1445,"y":0.43},{"g":"LMT","x":1448,"y":0.41},{"g":"LMT","x":1452,"y":0.44},{"g":"LMT","x":1455,"y":0.42},{"g":"LMT","x":1458,"y":0.40},{"g":"LMT","x":1460,"y":0.43},{"g":"LMT","x":1462,"y":0.45},{"g":"LMT","x":1465,"y":0.41},{"g":"LMT","x":1468,"y":0.42},{"g":"LMT","x":1470,"y":0.40},{"g":"LMT","x":1402,"y":0.38},{"g":"LMT","x":1426,"y":0.35},{"g":"LMT","x":1444,"y":0.34},{"g":"LMT","x":1394,"y":0.39},{"g":"LMT","x":1412,"y":0.46},{"g":"LMT","x":1456,"y":0.45},
        {"g":"LMT","x":1390,"y":0.24},{"g":"LMT","x":1405,"y":0.28},{"g":"LMT","x":1410,"y":0.27},{"g":"LMT","x":1430,"y":0.29},{"g":"LMT","x":1435,"y":0.31},{"g":"LMT","x":1425,"y":0.30},{"g":"LMT","x":1438,"y":0.28},
        {"g":"LST","x":1515,"y":0.87},{"g":"LST","x":1520,"y":0.875},{"g":"LST","x":1524,"y":0.865},{"g":"LST","x":1528,"y":0.86},{"g":"LST","x":1532,"y":0.855},{"g":"LST","x":1536,"y":0.85},{"g":"LST","x":1540,"y":0.845},{"g":"LST","x":1544,"y":0.84},{"g":"LST","x":1548,"y":0.835},{"g":"LST","x":1552,"y":0.835},{"g":"LST","x":1556,"y":0.83},{"g":"LST","x":1560,"y":0.83},{"g":"LST","x":1564,"y":0.825},{"g":"LST","x":1568,"y":0.83},{"g":"LST","x":1572,"y":0.825},{"g":"LST","x":1576,"y":0.83},{"g":"LST","x":1580,"y":0.825},{"g":"LST","x":1584,"y":0.83},{"g":"LST","x":1518,"y":0.85},{"g":"LST","x":1526,"y":0.845},{"g":"LST","x":1534,"y":0.84},{"g":"LST","x":1542,"y":0.83},{"g":"LST","x":1550,"y":0.825},{"g":"LST","x":1558,"y":0.82},{"g":"LST","x":1566,"y":0.815},{"g":"LST","x":1574,"y":0.82},{"g":"LST","x":1530,"y":0.87},{"g":"LST","x":1538,"y":0.865},{"g":"LST","x":1546,"y":0.855},
        {"g":"LST","x":1462,"y":0.88},{"g":"LST","x":1466,"y":0.84},{"g":"LST","x":1470,"y":0.80},{"g":"LST","x":1472,"y":0.86},{"g":"LST","x":1476,"y":0.78},{"g":"LST","x":1478,"y":0.82},{"g":"LST","x":1480,"y":0.75},{"g":"LST","x":1482,"y":0.89},{"g":"LST","x":1484,"y":0.80},{"g":"LST","x":1486,"y":0.72},{"g":"LST","x":1488,"y":0.84},{"g":"LST","x":1490,"y":0.78},{"g":"LST","x":1492,"y":0.82},{"g":"LST","x":1494,"y":0.76},{"g":"LST","x":1496,"y":0.80},{"g":"LST","x":1498,"y":0.74},{"g":"LST","x":1500,"y":0.83},{"g":"LST","x":1502,"y":0.78},{"g":"LST","x":1504,"y":0.81},{"g":"LST","x":1506,"y":0.77},{"g":"LST","x":1508,"y":0.79},{"g":"LST","x":1510,"y":0.73},{"g":"LST","x":1512,"y":0.81},{"g":"LST","x":1514,"y":0.76},{"g":"LST","x":1516,"y":0.78},{"g":"LST","x":1518,"y":0.71},{"g":"LST","x":1520,"y":0.80},{"g":"LST","x":1524,"y":0.75},{"g":"LST","x":1528,"y":0.79},{"g":"LST","x":1532,"y":0.72},{"g":"LST","x":1536,"y":0.77},{"g":"LST","x":1540,"y":0.74},{"g":"LST","x":1545,"y":0.78},{"g":"LST","x":1550,"y":0.72},{"g":"LST","x":1555,"y":0.76},{"g":"LST","x":1558,"y":0.70},{"g":"LST","x":1490,"y":0.70},{"g":"LST","x":1500,"y":0.69},{"g":"LST","x":1483,"y":0.636},{"g":"LST","x":1474,"y":0.73},{"g":"LST","x":1496,"y":0.86},{"g":"LST","x":1508,"y":0.85},{"g":"LST","x":1485,"y":0.77},{"g":"LST","x":1503,"y":0.75},{"g":"LST","x":1513,"y":0.84}
      ]},
      "mark": {"type": "point", "filled": false, "size": 100, "strokeWidth": 1.4, "opacity": 1},
      "encoding": {
        "x": {
          "field": "x", "type": "quantitative",
          "scale": {"domain": [0, 1600], "nice": false},
          "axis": {
            "values": [0, 200, 400, 600, 800, 1000, 1200, 1400, 1600],
            "format": "d", "labelFlush": false, "labelOverlap": false, "labelBound": false,
            "grid": true, "gridColor": "#D9D9D9", "gridWidth": 1,
            "domain": false, "ticks": false, "tickSize": 0,
            "labelFont": "Lato", "labelFontSize": 21, "labelColor": "#404040", "labelPadding": 24,
            "title": "Experiment number", "titleFont": "Lato", "titleFontSize": 25, "titleFontWeight": "bold",
            "titleColor": "#262626", "titleBaseline": "alphabetic", "titleY": 80
          }
        },
        "y": {
          "field": "y", "type": "quantitative",
          "scale": {"domain": [-0.5, 1.1], "nice": false},
          "axis": {
            "values": [-0.5, -0.3, -0.1, 0.1, 0.3, 0.5, 0.7, 0.9, 1.1],
            "format": ".1f", "labelFlush": false, "labelOverlap": false,
            "labelExpr": "replace(datum.label, '\u2212', '-')",
            "grid": true, "gridColor": "#D9D9D9", "gridWidth": 1,
            "domain": false, "ticks": false, "tickSize": 0,
            "labelFont": "Lato", "labelFontSize": 21, "labelColor": "#404040", "labelPadding": 36,
            "title": "c\u2096", "titleFont": "Lato", "titleFontSize": 24, "titleFontWeight": "bold",
            "titleColor": "#262626", "titleAngle": -90, "titleX": -93, "titleY": 232,
            "titleAlign": "center", "titleBaseline": "middle"
          }
        },
        "color": {
          "field": "g", "type": "nominal",
          "scale": {"domain": ["IEU", "LEU", "LCT", "LMT", "LST"], "range": ["#4A7EBB", "#C0504D", "#000000", "#D40000", "#7030A0"]},
          "legend": {
            "orient": "none", "legendX": 5, "legendY": 603, "direction": "horizontal", "title": null,
            "symbolSize": 70, "symbolStrokeWidth": 1, "gridAlign": "all", "columnPadding": 40,
            "labelFont": "Lato", "labelFontSize": 21, "labelColor": "#404040", "labelOffset": 16
          }
        },
        "shape": {
          "field": "g", "type": "nominal",
          "scale": {"domain": ["IEU", "LEU", "LCT", "LMT", "LST"], "range": ["circle", "triangle-up", "M-1.4,-1.4L1.4,1.4M-1.4,1.4L1.4,-1.4", "M-1.15,-1.15H1.15V1.15H-1.15Z", "M0,-1.3L1.3,0L0,1.3L-1.3,0Z"]},
          "legend": {
            "orient": "none", "legendX": 5, "legendY": 603, "direction": "horizontal", "title": null,
            "symbolSize": 70, "symbolStrokeWidth": 1, "gridAlign": "all", "columnPadding": 40,
            "labelFont": "Lato", "labelFontSize": 21, "labelColor": "#404040", "labelOffset": 16
          }
        }
      }
    }
  ]
}
